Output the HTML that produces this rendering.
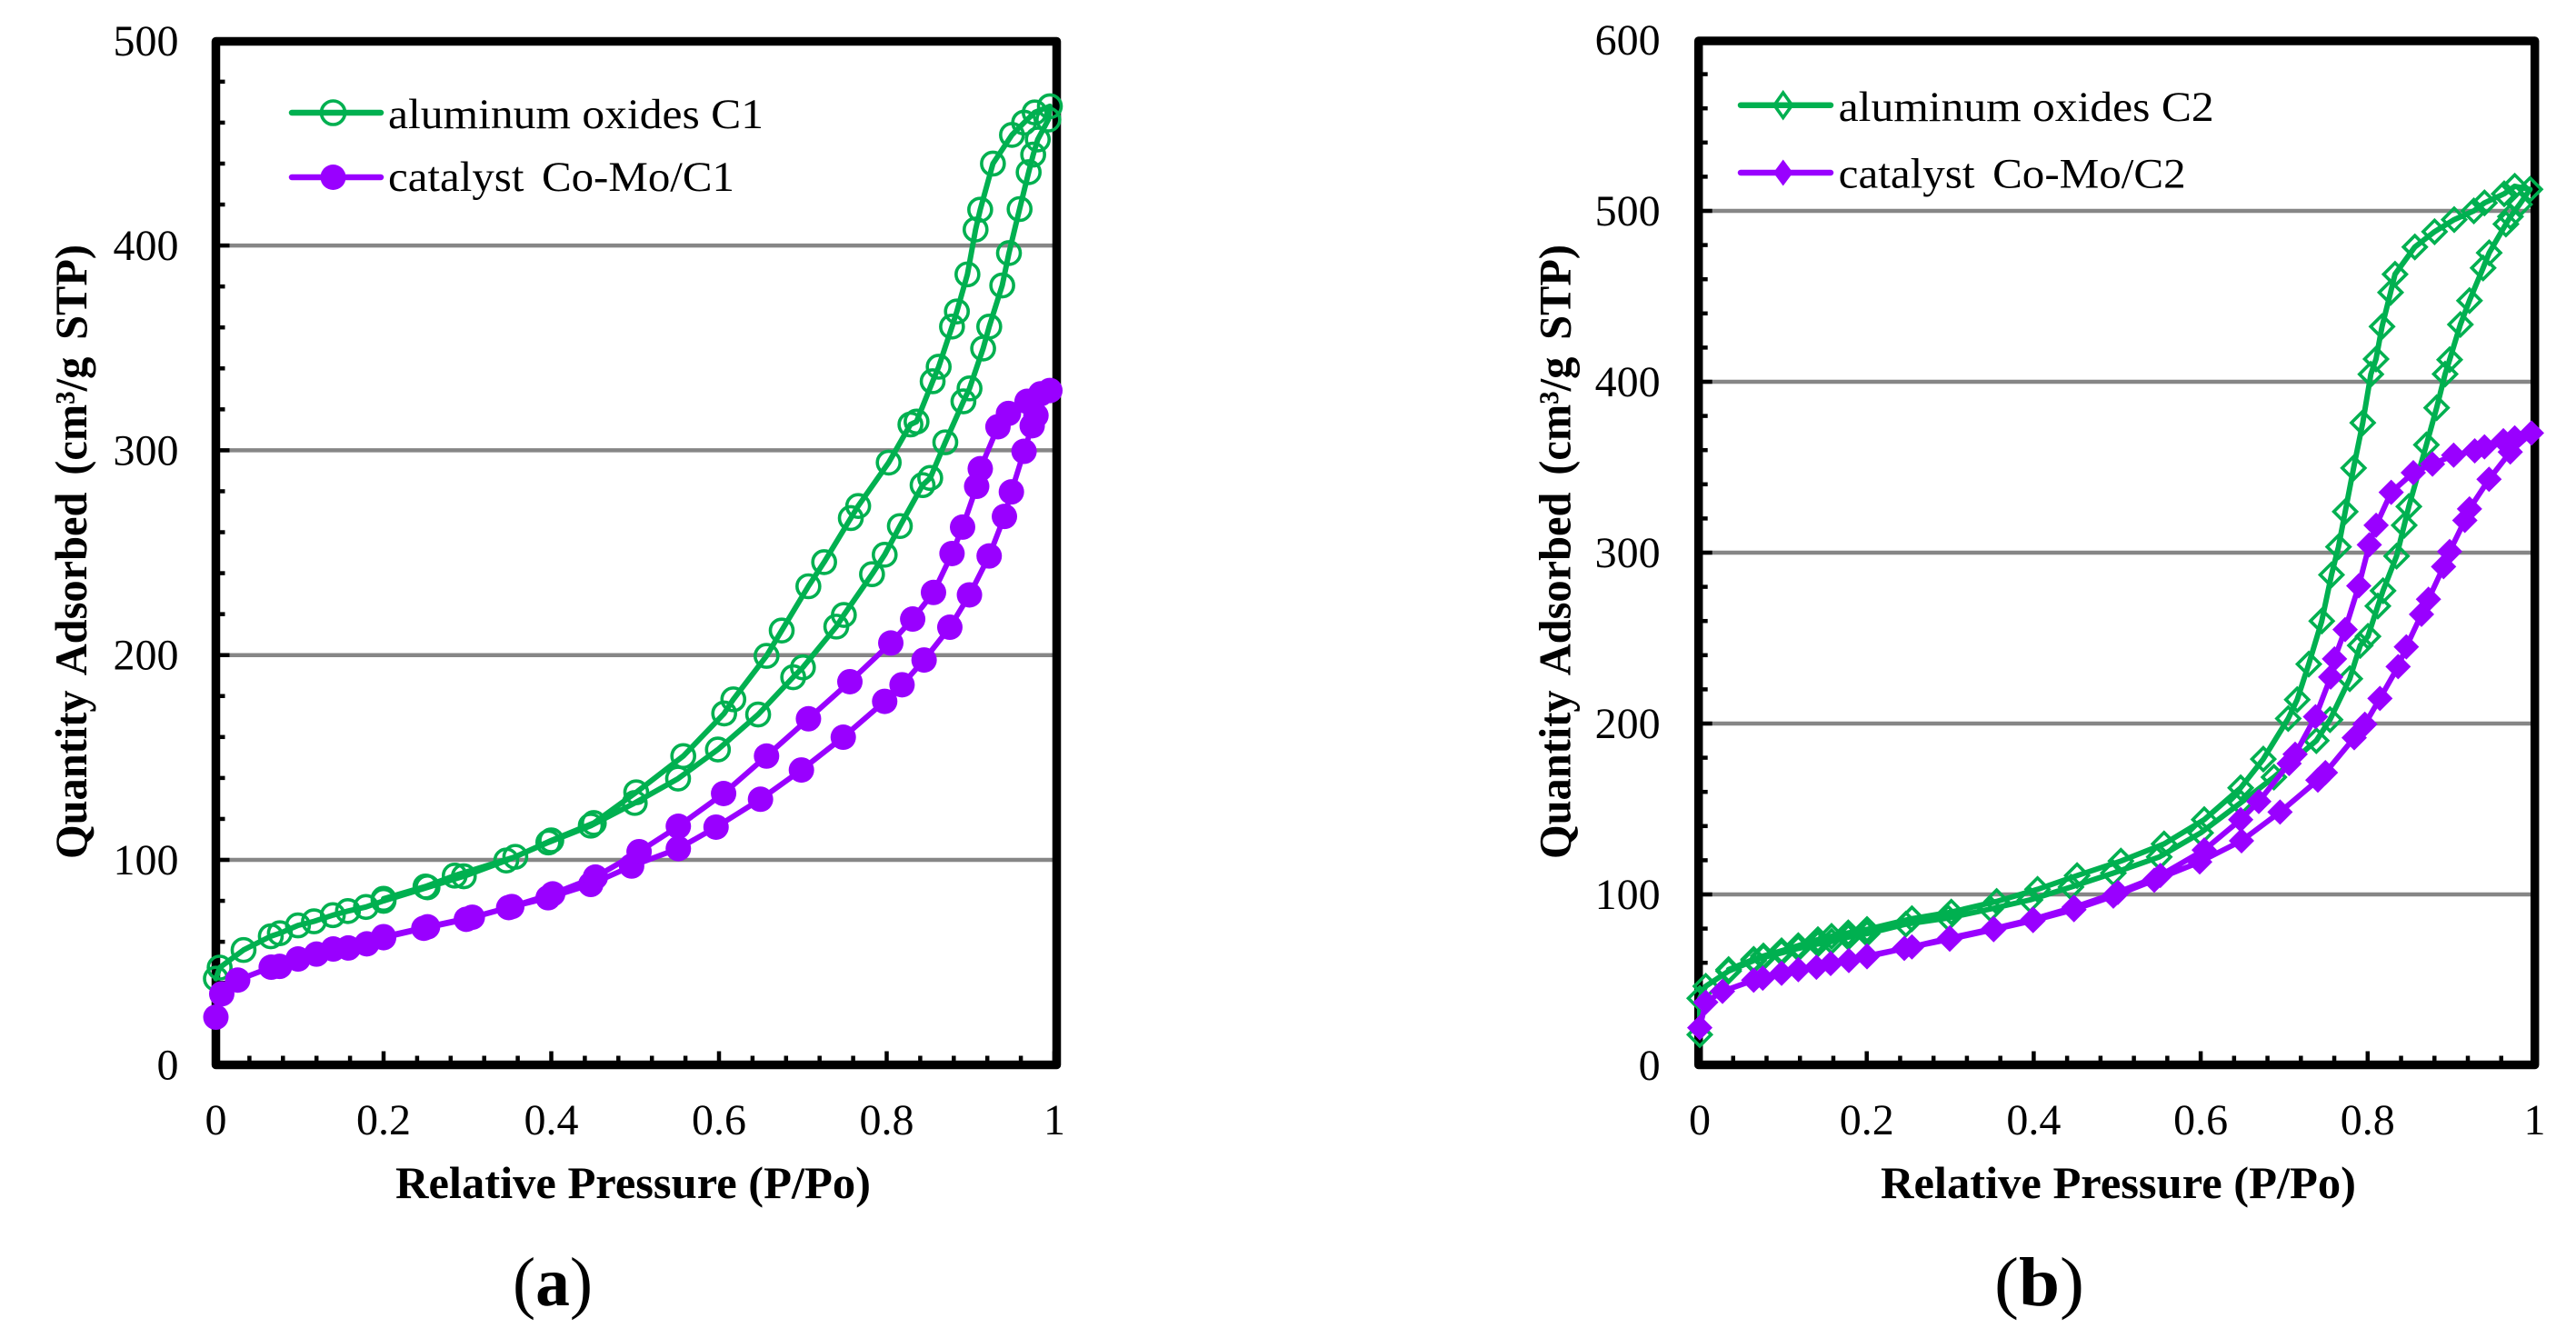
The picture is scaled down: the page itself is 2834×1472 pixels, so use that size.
<!DOCTYPE html>
<html lang="en">
<head>
<meta charset="utf-8">
<title>Nitrogen adsorption isotherms</title>
<style>
html,body{margin:0;padding:0;background:#fff;}
svg{display:block;}
text{font-family:"Liberation Serif",serif;fill:#000;}
.title{font-weight:bold;font-size:50px;}
.ytitle{word-spacing:7px;}
.tick{font-size:48px;}
.legend{font-size:47px;}
.wide{word-spacing:7px;}
.panel{font-size:76px;}
</style>
</head>
<body>
<svg id="chart" xmlns="http://www.w3.org/2000/svg" width="2834" height="1472" viewBox="0 0 2834 1472">
  <rect x="0" y="0" width="2834" height="1472" fill="#fff"/>
  <g id="panel-a"></g>
  <g id="panel-b"></g>

  <text class="title ytitle" transform="translate(95,945) rotate(-90)" textLength="676" lengthAdjust="spacingAndGlyphs">Quantity Adsorbed (cm³/g STP)</text>
  <text class="title" x="435" y="1318" textLength="523" lengthAdjust="spacingAndGlyphs">Relative Pressure (P/Po)</text>
  <text class="panel" x="564" y="1436" textLength="88" lengthAdjust="spacingAndGlyphs">(<tspan font-weight="bold">a</tspan>)</text>

  <text class="title ytitle" transform="translate(1727.6,945) rotate(-90)" textLength="676" lengthAdjust="spacingAndGlyphs">Quantity Adsorbed (cm³/g STP)</text>
  <text class="title" x="2069" y="1318" textLength="523" lengthAdjust="spacingAndGlyphs">Relative Pressure (P/Po)</text>
  <text class="panel" x="2194" y="1436" textLength="99" lengthAdjust="spacingAndGlyphs">(<tspan font-weight="bold">b</tspan>)</text>

  <g>
    <g>
      <line x1="321" y1="124" x2="419" y2="124" stroke="#00B050" stroke-width="6.5" stroke-linecap="round"/>
      <circle cx="366.5" cy="124" r="13" fill="none" stroke="#00B050" stroke-width="3.6"/>
      <text class="legend" x="427" y="141" textLength="413" lengthAdjust="spacingAndGlyphs">aluminum oxides C1</text>
    </g>
    <g>
      <line x1="321" y1="195" x2="419" y2="195" stroke="#9900FF" stroke-width="6.5" stroke-linecap="round"/>
      <circle cx="366.5" cy="195" r="14" fill="#9900FF"/>
      <text class="legend wide" x="427" y="210" textLength="381" lengthAdjust="spacingAndGlyphs">catalyst Co-Mo/C1</text>
    </g>
  </g>
  <g>
    <g>
      <line x1="1915" y1="115.7" x2="2014" y2="115.7" stroke="#00B050" stroke-width="6.5" stroke-linecap="round"/>
      <polygon points="1961.7,102 1971.5,115.7 1961.7,129.4 1952,115.7" fill="none" stroke="#00B050" stroke-width="3.6"/>
      <text class="legend" x="2022.7" y="133" textLength="413" lengthAdjust="spacingAndGlyphs">aluminum oxides C2</text>
    </g>
    <g>
      <line x1="1915" y1="190" x2="2014" y2="190" stroke="#9900FF" stroke-width="6.5" stroke-linecap="round"/>
      <polygon points="1961.7,175.5 1972.5,190 1961.7,204.5 1951,190" fill="#9900FF"/>
      <text class="legend wide" x="2022.7" y="206.7" textLength="382" lengthAdjust="spacingAndGlyphs">catalyst Co-Mo/C2</text>
    </g>
  </g>
</svg>

<script>
// ---- Axis tick values and labels ----
var xTickValues = [0, 0.2, 0.4, 0.6, 0.8, 1];
var xTickLabels = ["0", "0.2", "0.4", "0.6", "0.8", "1"];
var yTickValuesA = [0, 100, 200, 300, 400, 500];
var yTickLabelsA = ["0", "100", "200", "300", "400", "500"];
var yTickValuesB = [0, 100, 200, 300, 400, 500, 600];
var yTickLabelsB = ["0", "100", "200", "300", "400", "500", "600"];

// ---- Panel (a): aluminum oxides C1 ----
var aluminaC1Pressure = [0,0.0045,0.033,0.0655,0.0763,0.0979,0.117,0.1395,0.1575,0.179,0.2,0.2524,0.2957,0.3463,0.3965,0.4471,0.4995,0.5512,0.5987,0.6467,0.6885,0.7001,0.7399,0.7489,0.7825,0.7976,0.8157,0.8428,0.8519,0.8699,0.8915,0.8988,0.915,0.9223,0.9378,0.9458,0.9585,0.9693,0.9747,0.9802,0.9928,0.9946,0.9765,0.9639,0.9494,0.9267,0.9115,0.906,0.8963,0.8837,0.8779,0.862,0.8548,0.8356,0.8283,0.8024,0.766,0.7572,0.7254,0.7066,0.6748,0.6567,0.6171,0.6062,0.5574,0.5013,0.4507,0.4,0.3571,0.2848,0.25,0.2];
var aluminaC1Quantity = [42,47.4,56,62.7,64.2,68,70,73,75,77,80,86.6,92,99.7,108.5,116.7,127.8,139.7,153.9,171,189.2,194,213.9,219.6,239.5,249,263,283,286.5,303.9,323.9,330.2,349.7,360.4,380.5,396.3,417.8,435.8,444.4,451.8,461.5,468,465,460,454,440,417.5,407.8,385.9,367.8,360.4,340.8,333.7,314,312.6,294,272.8,266.9,245.4,233.6,212,199.6,178.4,171.5,150.7,133,118,109.5,101.5,92.3,87,81];

// ---- Panel (a): catalyst Co-Mo/C1 ----
var catalystC1Pressure = [0,0.007,0.026,0.066,0.076,0.098,0.12,0.14,0.158,0.18,0.2,0.248,0.2987,0.3492,0.3962,0.4471,0.4958,0.5515,0.5965,0.6495,0.6983,0.7482,0.7976,0.8183,0.8446,0.8753,0.8987,0.9222,0.9404,0.9487,0.9638,0.9735,0.978,0.9946,0.9836,0.9674,0.9452,0.9327,0.9116,0.9073,0.8905,0.8779,0.8558,0.831,0.8049,0.7561,0.7067,0.6567,0.6055,0.5515,0.5047,0.4526,0.4017,0.3529,0.3058,0.2524,0.2];
var catalystC1Quantity = [23.2,34.6,41.3,47.6,48,51.6,54,56.5,57,59,62,66.6,71,76.7,81.5,88,97,105.5,116,129.6,143.9,159.9,177.4,185.5,197.6,213.6,229.4,248.4,267.7,279.7,299.5,312,317,329.2,327.6,323.9,318,311.5,291,282.4,262.5,249.6,230.6,217.6,205.9,187,168.9,150.7,132.4,116.4,104,91.6,83.4,77.2,72,67.3,62.5];

// ---- Panel (b): aluminum oxides C2 ----
var aluminaC2Pressure = [0,0,0.0072,0.0345,0.0646,0.0762,0.098,0.118,0.1415,0.1579,0.1779,0.2003,0.2468,0.2976,0.3483,0.3955,0.4446,0.4954,0.5503,0.5999,0.6479,0.6877,0.7385,0.7549,0.7785,0.7911,0.8003,0.8122,0.8184,0.8346,0.8438,0.8493,0.8703,0.8826,0.8928,0.8982,0.911,0.9219,0.9383,0.9456,0.9656,0.971,0.9819,0.9944,0.9762,0.9635,0.9399,0.9272,0.9036,0.8801,0.8565,0.8328,0.8274,0.8172,0.81,0.8038,0.7941,0.7831,0.7731,0.765,0.7567,0.745,0.7294,0.7156,0.7048,0.675,0.6479,0.6043,0.5561,0.5044,0.4519,0.4046,0.3556,0.3012,0.2541,0.2003,0.1779,0.1579,0.1415,0.118,0.098,0.0762,0.0646,0.0345];
var aluminaC2Quantity = [17.9,39.2,46.3,55.1,61.3,63.1,65.8,68.4,71,72.5,75,77,82.6,86.2,91.5,96.8,104.3,112.5,121.9,136,153.6,168.6,190,202.3,226.2,245.7,251,268.8,277.7,298,316,327,363.1,384.8,404.5,412.9,433.5,447.5,466.6,475.5,492.3,496.7,503.8,512.6,514.4,510,504.7,500,494.9,487.8,478.9,462.9,452.3,432.3,413.3,404.4,376,349.5,324,303.4,287,260,234.8,214,202.9,179.2,162.4,143.8,129.6,119.5,111,103,95.9,89.7,85.8,79.5,77.5,75.5,73.5,70,67,64,62,56];

// ---- Panel (b): catalyst Co-Mo/C2 ----
var catalystC2Pressure = [0,0.0072,0.0272,0.0646,0.0755,0.098,0.118,0.1397,0.1568,0.1786,0.2003,0.245,0.2994,0.352,0.3992,0.4482,0.4954,0.5444,0.5988,0.6489,0.695,0.7403,0.7494,0.7839,0.7966,0.8147,0.8365,0.8463,0.8645,0.8728,0.8909,0.8982,0.9164,0.9219,0.9454,0.9708,0.9962,0.9762,0.9625,0.9399,0.9283,0.903,0.8776,0.8547,0.8282,0.8101,0.802,0.7893,0.773,0.7603,0.7557,0.7375,0.7131,0.7059,0.6696,0.6479,0.6043,0.5517,0.5008,0.4482,0.3992,0.352,0.2994,0.2541,0.2003];
var catalystC2Quantity = [22,36.9,43.3,49.8,51,53.9,56,57.4,59.6,61.3,63.5,68.4,73.8,79.4,84.7,91.1,99,108.3,119,131.4,148.2,166.9,171.3,191.7,199.6,214.7,233.3,244.9,263.9,272.7,291.8,300.7,318.9,325.6,342.9,358.9,370,367.2,365.5,361.9,359.6,357,351.8,346.8,335.3,316,304.6,280.6,255,237.8,227.2,204,182,176.6,154.4,143.8,126,111.1,101.2,92.5,85.5,80,74.5,69.3,64];

var SVG_NS = "http://www.w3.org/2000/svg";

function make(tag, attrs, parent) {
  var node = document.createElementNS(SVG_NS, tag);
  for (var key in attrs) {
    node.setAttribute(key, attrs[key]);
  }
  parent.appendChild(node);
  return node;
}

function drawFrame(root, p, yTicks, yLabels) {
  var xScale = function (v) { return p.x0 + v * p.xw; };
  var yScale = function (v) { return p.y0 - v * p.ypx; };
  var i, v, node;

  var grid = make("g", {}, root);
  
  
  for (i = 0; i < yTicks.length; i++) {
    v = yTicks[i];
    if (v === 0 || v === yTicks[yTicks.length - 1]) continue;
    node = make("line", {x1: p.fl, x2: p.fr, y1: yScale(v), y2: yScale(v), stroke: "#868686", "stroke-width": 4.5}, grid);
    
    
  }

  var ticks = make("g", {}, root);
  
  
  var yMax = yTicks[yTicks.length - 1];
  for (v = 0; v <= yMax; v += 20) {
    var yMajor = v % 100 === 0;
    node = make("line", {x1: p.fl, x2: p.fl + (yMajor ? 15 : 10), y1: yScale(v), y2: yScale(v), stroke: "#000", "stroke-width": 4.5}, ticks);
    
    
  }
  for (i = 0; i <= 25; i++) {
    var xMajor = i % 5 === 0;
    node = make("line", {x1: xScale(i * 0.04), x2: xScale(i * 0.04), y1: p.ft, y2: p.ft - (xMajor ? 15 : 10), stroke: "#000", "stroke-width": 4.5}, ticks);
    
    
  }

  var frame = make("rect", {x: p.fl, y: p.ftop, width: p.fr - p.fl, height: p.ft - p.ftop, fill: "none", stroke: "#000", "stroke-width": 9.5, "stroke-linejoin": "round"}, root);
  
  

  for (i = 0; i < yTicks.length; i++) {
    node = make("text", {x: p.yLabelX, y: yScale(yTicks[i]) + 16, "text-anchor": "end", "class": "tick"}, root);
    node.textContent = yLabels[i];
    
    
  }
  for (i = 0; i < xTickValues.length; i++) {
    node = make("text", {x: xScale(xTickValues[i]), y: 1248, "text-anchor": "middle", "class": "tick"}, root);
    node.textContent = xTickLabels[i];
    
    
  }
}

function drawSeries(root, p, pressure, quantity, color, shape, hollow, name) {
  var group = make("g", {}, root);
  
  

  var pts = [];
  for (var i = 0; i < pressure.length; i++) {
    pts.push([p.x0 + pressure[i] * p.xw, p.y0 - quantity[i] * p.ypx]);
  }
  var line = make("polyline", {
    points: pts.map(function (q) { return q[0].toFixed(1) + "," + q[1].toFixed(1); }).join(" "),
    fill: "none", stroke: color, "stroke-width": 6, "stroke-linejoin": "round", "stroke-linecap": "round"
  }, group);
  
  

  pts.forEach(function (q) {
    var mark;
    var paint = hollow ? {fill: "none", stroke: color, "stroke-width": 3.6} : {fill: color};
    if (shape === "circle") {
      mark = make("circle", {cx: q[0], cy: q[1], r: hollow ? 12.5 : 14}, group);
    } else {
      var r = hollow ? 12.5 : 14;
      mark = make("polygon", {points: [[q[0], q[1] - r], [q[0] + r, q[1]], [q[0], q[1] + r], [q[0] - r, q[1]]].map(function (c) { return c[0].toFixed(1) + "," + c[1].toFixed(1); }).join(" ")}, group);
    }
    for (var k in paint) { mark.setAttribute(k, paint[k]); }
    
    
  });
}

var layoutA = {x0: 237.5, xw: 922.5, y0: 1171.3, ypx: 2.253, fl: 237.5, fr: 1162.5, ftop: 45.5, ft: 1171.5, yLabelX: 196.5};
var layoutB = {x0: 1870, xw: 918.5, y0: 1172, ypx: 1.88, fl: 1868.7, fr: 2788.7, ftop: 45, ft: 1171.5, yLabelX: 1826.6};

var panelA = document.getElementById("panel-a");
var panelB = document.getElementById("panel-b");

drawFrame(panelA, layoutA, yTickValuesA, yTickLabelsA);
drawSeries(panelA, layoutA, aluminaC1Pressure, aluminaC1Quantity, "#00B050", "circle", true, "series-aluminum-oxides-c1");
drawSeries(panelA, layoutA, catalystC1Pressure, catalystC1Quantity, "#9900FF", "circle", false, "series-catalyst-co-mo-c1");

drawFrame(panelB, layoutB, yTickValuesB, yTickLabelsB);
drawSeries(panelB, layoutB, aluminaC2Pressure, aluminaC2Quantity, "#00B050", "diamond", true, "series-aluminum-oxides-c2");
drawSeries(panelB, layoutB, catalystC2Pressure, catalystC2Quantity, "#9900FF", "diamond", false, "series-catalyst-co-mo-c2");
</script>
</body>
</html>
